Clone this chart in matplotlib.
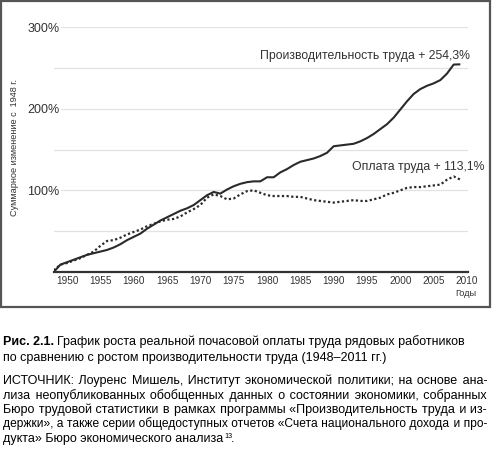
import matplotlib
matplotlib.use("Agg")
import matplotlib.pyplot as plt
from matplotlib.patches import Rectangle

plt.rcParams['font.family'] = ['Liberation Sans', 'DejaVu Sans']

# data (% change since 1948)
years = list(range(1948, 2010))
productivity = [0, 9, 12, 15, 18, 21, 23, 25, 27, 30,
                34, 39, 43, 47, 53, 58, 63, 67, 71, 75,
                78, 82, 88, 94, 98, 96, 101, 105, 108, 110,
                111, 111, 116, 116, 122, 126, 131, 135, 137, 139,
                142, 146, 154, 155, 156, 157, 160, 164, 169, 175,
                181, 189, 199, 209, 218, 224, 228, 231, 235, 243,
                254, 254.3]
wages = [2, 9, 11, 14, 17, 21, 25, 32, 38, 39,
         42, 46, 49, 52, 56, 59, 62, 64, 65, 68,
         73, 77, 82, 91, 95, 93, 89, 90, 95, 99,
         100, 97, 94, 93, 93, 93, 92, 92, 90, 88,
         87, 86, 85, 86, 87, 88, 87, 87, 89, 91,
         95, 97, 100, 103, 104, 104, 105, 106, 107, 113,
         117, 113.1]

xticks = [1950, 1955, 1960, 1965, 1970, 1975, 1980, 1985, 1990, 1995, 2000, 2005, 2010]
ylabels = [100, 200, 300]
grid_minor = [50, 150, 250]

W, H = 492, 450
fig = plt.figure(figsize=(W / 100, H / 100), dpi=100)


def px(x, y):
    return x / W, 1 - y / H


# frame around the chart
fig.patches.append(Rectangle(px(1, 307), 489 / W, 306 / H, transform=fig.transFigure,
                             fill=False, edgecolor='#555555', linewidth=1.6))

ax = fig.add_axes([53.7 / W, 1 - 272 / H, 414.3 / W, 245 / H])
ax.set_xlim(1948, 2010.15)
ax.set_ylim(0, 300)

for s in ['top', 'right', 'left']:
    ax.spines[s].set_visible(False)
ax.spines['bottom'].set_color('#333333')
ax.spines['bottom'].set_linewidth(1.6)

for v in grid_minor:
    ax.axhline(v, color='#e2e2e2', linewidth=0.9, zorder=0)
for v in ylabels:
    ax.axhline(v, xmin=0.018, color='#e2e2e2', linewidth=0.9, zorder=0)

ax.plot(years, productivity, color='#2a2a2a', linewidth=1.5, solid_capstyle='butt')
ax.plot(years, wages, color='#2a2a2a', linewidth=1.6, linestyle=(0, (1, 1.1)))

ax.set_xticks(xticks)
ax.set_xticklabels([str(t) for t in xticks], fontsize=7.2, color='#333333')
ax.set_yticks(ylabels)
ax.set_yticklabels([f'{v}%' for v in ylabels], fontsize=9, color='#333333')
ax.tick_params(axis='x', length=0, pad=3)
ax.tick_params(axis='y', length=0, pad=-4.2)

fig.text(*px(15, 147), 'Суммарное изменение с  1948 г.', rotation=90, fontsize=6.6,
         color='#333333', ha='center', va='center')
fig.text(*px(466, 294), 'Годы', fontsize=6.6, color='#333333', ha='center', va='center')

fig.text(*px(470, 59), 'Производительность труда + 254,3%', fontsize=8.8,
         color='#333333', ha='right', va='baseline')
fig.text(*px(485, 170), 'Оплата труда + 113,1%', fontsize=8.8,
         color='#333333', ha='right', va='baseline')

# caption under the chart
fs = 9.0
fig.canvas.draw()
r = fig.canvas.get_renderer()


def width(s, size=fs, **kw):
    t = fig.text(0, 0, s, fontsize=size, **kw)
    w = t.get_window_extent(r).width
    t.remove()
    return w


fig.text(*px(3, 345), 'Рис. 2.1.', fontsize=fs, fontweight='bold', va='baseline')
fig.text(*px(3 + width('Рис. 2.1.', fontweight='bold') + 3, 345),
         'График роста реальной почасовой оплаты труда рядовых работников',
         fontsize=fs, va='baseline')
fig.text(*px(3, 360.5), 'по сравнению с ростом производительности труда (1948–2011 гг.)',
         fontsize=fs, va='baseline')

source_lines = [
    'ИСТОЧНИК: Лоуренс Мишель, Институт экономической политики; на основе ана-',
    'лиза неопубликованных обобщенных данных о состоянии экономики, собранных',
    'Бюро трудовой статистики в рамках программы «Производительность труда и из-',
    'держки», а также серии общедоступных отчетов «Счета национального дохода и про-',
]
baselines = [384, 398.5, 413, 427.5]
line_w = 484

# justify each line by padding the word gaps with thin and hair spaces
THIN, HAIR = '\u2009', '\u200a'

for line, yb in zip(source_lines, baselines):
    size = fs
    natural = width(line, size)
    if natural > line_w:
        size = fs * line_w / natural - 0.05
        natural = width(line, size)
    w_thin = (width('x' + THIN * 10 + 'x', size) - width('xx', size)) / 10
    w_hair = (width('x' + HAIR * 10 + 'x', size) - width('xx', size)) / 10
    words = line.split(' ')
    per_gap = (line_w - natural) / (len(words) - 1)
    out = words[0]
    added = 0.0
    for i, w in enumerate(words[1:]):
        need = per_gap * (i + 1) - added
        n_thin = max(int(need // w_thin), 0)
        rest = need - n_thin * w_thin
        n_hair = max(int(round(rest / w_hair)), 0)
        added += n_thin * w_thin + n_hair * w_hair
        out += ' ' + THIN * n_thin + HAIR * n_hair + w
    fig.text(*px(3, yb), out, fontsize=size, va='baseline')

last_line = 'дукта» Бюро экономического анализа'
fig.text(*px(3, 442), last_line, fontsize=fs, va='baseline')
x = 3 + width(last_line)
fig.text(*px(x + 1.5, 437.5), '13', fontsize=5.2, va='baseline')
fig.text(*px(x + 8, 442), '.', fontsize=fs, va='baseline')

fig.savefig('out.png', dpi=100)
